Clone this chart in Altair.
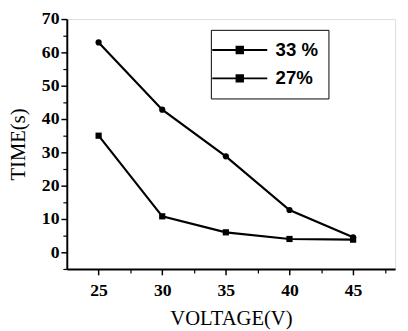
import altair as alt
import pandas as pd

voltage = [25, 30, 35, 40, 45]
time_33 = [35, 10.8, 6, 4, 3.8]
time_27 = [63, 42.8, 28.8, 12.7, 4.5]
series = ["33 %", "27%"]

rows = []
for v, t in zip(voltage, time_33):
    rows.append({"V": v, "T": t, "S": series[0]})
for v, t in zip(voltage, time_27):
    rows.append({"V": v, "T": t, "S": series[1]})
df = pd.DataFrame(rows)

x_major = [25, 30, 35, 40, 45]
x_minor = [27.5, 32.5, 37.5, 42.5, 47.5]
y_major = [0, 10, 20, 30, 40, 50, 60, 70]
y_minor = [-5, 5, 15, 25, 35, 45, 55, 65]

xs = alt.Scale(domain=[22.5, 48.3], nice=False, zero=False)
ys = alt.Scale(domain=[-5, 70], nice=False, zero=False)
color = alt.Color("S:N", scale=alt.Scale(domain=series, range=["black", "black"]),
                  legend=alt.Legend(title=None, orient="none", legendX=147, legendY=11,
                                    symbolType="M-3,0H3M-0.35,-0.35h0.7v0.7h-0.7Z",
                                    symbolSize=350, symbolStrokeWidth=2,
                                    symbolFillColor="black", symbolStrokeColor="black",
                                    symbolOffset=9, labelOffset=26,
                                    labelFont="Liberation Sans", labelFontSize=19,
                                    labelFontWeight="bold", labelColor="black",
                                    strokeColor="black", padding=10, rowPadding=8,
                                    fillColor="white"))

common = dict(tickColor="black", labelFont="Liberation Serif", labelFontWeight="bold",
              labelFontSize=18, labelColor="black", grid=False,
              labelOverlap=False, labelFlush=False, labelBound=False,
              titleFont="Liberation Serif", titleFontWeight="normal",
              titleFontSize=21, titleColor="black")
xax = alt.Axis(values=x_major, tickSize=6, tickWidth=1.5, domainWidth=2, domainColor="black",
               labelPadding=7, title="VOLTAGE(V)", titlePadding=9, orient="bottom", **common)
yax = alt.Axis(values=y_major, tickSize=6, tickWidth=1.5, domainWidth=2, domainColor="black",
               labelPadding=2, title="TIME(s)", titlePadding=13, orient="left", **common)
xax_minor = alt.Axis(values=x_minor, tickSize=4, tickWidth=1.2, domain=False, labels=False,
                     title=None, orient="bottom", tickColor="black", grid=False)
yax_minor = alt.Axis(values=y_minor, tickSize=4, tickWidth=1.2, domain=False, labels=False,
                     title=None, orient="left", tickColor="black", grid=False)

base = alt.Chart(df)
lines = base.mark_line(strokeWidth=2.2, color="black").encode(
    x=alt.X("V:Q", scale=xs, axis=xax),
    y=alt.Y("T:Q", scale=ys, axis=yax),
    color=color,
)
minor = base.mark_point(opacity=0).encode(
    x=alt.X("V:Q", scale=xs, axis=xax_minor),
    y=alt.Y("T:Q", scale=ys, axis=yax_minor),
)
sq = base.transform_filter(alt.datum.S == series[0]).mark_point(
    filled=True, size=40, opacity=1, shape="square", color="black").encode(
    x=alt.X("V:Q", scale=xs, axis=None),
    y=alt.Y("T:Q", scale=ys, axis=None),
)
ci = base.transform_filter(alt.datum.S == series[1]).mark_point(
    filled=True, size=40, opacity=1, shape="circle", color="black").encode(
    x=alt.X("V:Q", scale=xs, axis=None),
    y=alt.Y("T:Q", scale=ys, axis=None),
)

chart = alt.layer(lines, minor, sq, ci).resolve_axis(x="independent", y="independent").properties(
    width=335, height=255,
    autosize=alt.AutoSizeParams(type="none"),
    padding={"left": 60, "top": 8, "right": 5, "bottom": 60},
).configure_view(stroke=None).configure(background="white")

chart.save("out.html", embed_options={"renderer": "svg", "actions": False})
